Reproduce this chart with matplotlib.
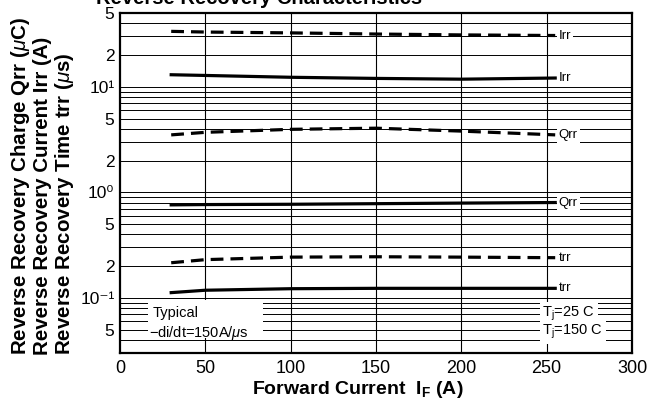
import numpy as np
import matplotlib
matplotlib.use("Agg")
import matplotlib.pyplot as plt
from matplotlib.patches import Rectangle

plt.rcParams['font.family'] = ['Liberation Sans', 'DejaVu Sans']
plt.rcParams['mathtext.fontset'] = 'custom'
plt.rcParams['mathtext.rm'] = 'Liberation Sans'
plt.rcParams['mathtext.it'] = 'Liberation Sans:italic'
plt.rcParams['mathtext.bf'] = 'Liberation Sans:bold'

# forward current (A)
x_pts = [30, 50, 100, 150, 200, 255]

# dashed = Tj 25C, solid = Tj 150C
irr_dash = [33.5, 33.0, 32.4, 31.6, 31.0, 30.6]
irr_solid = [13.0, 12.8, 12.3, 12.0, 11.8, 12.1]
qrr_dash = [3.5, 3.7, 3.95, 4.05, 3.8, 3.5]
qrr_solid = [0.76, 0.765, 0.77, 0.78, 0.79, 0.80]
trr_dash = [0.215, 0.23, 0.243, 0.245, 0.243, 0.24]
trr_solid = [0.112, 0.118, 0.122, 0.123, 0.123, 0.123]

curve_names = ["Irr", "Irr", "Qrr", "Qrr", "trr", "trr"]

x_ticks = [0, 50, 100, 150, 200, 250, 300]
y_ticks = [0.05, 0.1, 0.2, 0.5, 1, 2, 5, 10, 20, 50]
y_tick_labels = ["5", "10\u207b\u00b9", "2", "5", "10\u2070",
                 "2", "5", "10\u00b9", "2", "5"]

fig = plt.figure(figsize=(6.62, 4.09), dpi=100)
ax = fig.add_axes([120/662, 1-353/409, 512/662, 340/409])

ax.set_yscale('log')
ax.set_xlim(0, 300)
ax.set_ylim(0.03, 50)

# grid: every 1..9 step in each decade plus the 50 A lines
minor = []
for dec in [0.01, 0.1, 1, 10]:
    for m in range(1, 10):
        v = m*dec
        if 0.03 < v < 50:
            minor.append(v)
for v in minor:
    ax.axhline(v, color='black', lw=0.7, zorder=1)
for v in x_ticks[1:-1]:
    ax.axvline(v, color='black', lw=0.8, zorder=1)

series = [irr_dash, irr_solid, qrr_dash, qrr_solid, trr_dash, trr_solid]
for i, ys in enumerate(series):
    if i % 2 == 0:
        ax.plot(x_pts, ys, color='black', lw=2.3, dashes=(4, 2.2), zorder=3)
    else:
        ax.plot(x_pts, ys, color='black', lw=2.3, zorder=3)
    ax.text(257, ys[-1], curve_names[i], fontsize=9.5, ha='left', va='center',
            zorder=4, bbox=dict(facecolor='white', edgecolor='none', pad=1.5))

# white patches behind the notes
ax.add_patch(Rectangle((0.054, 0.045), 0.225, 0.11, transform=ax.transAxes,
                       facecolor='white', edgecolor='none', zorder=2))
ax.text(0.063, 0.118, "Typical", transform=ax.transAxes, fontsize=10.5,
        va='center', ha='left', zorder=4)
ax.text(0.056, 0.06, r"$-$di/dt=150A/$\mathit{\mu}$s", transform=ax.transAxes,
        fontsize=10.5, va='center', ha='left', zorder=4)
ax.text(0.825, 0.115, r"T$_\mathregular{j}$=25 C", transform=ax.transAxes,
        fontsize=10.5, va='center', ha='left', zorder=4,
        bbox=dict(facecolor='white', edgecolor='none', pad=2))
ax.text(0.825, 0.062, r"T$_\mathregular{j}$=150 C", transform=ax.transAxes,
        fontsize=10.5, va='center', ha='left', zorder=4,
        bbox=dict(facecolor='white', edgecolor='none', pad=2))

ax.set_xticks(x_ticks)
ax.set_yticks(y_ticks)
ax.set_yticklabels(y_tick_labels)
ax.yaxis.set_minor_locator(matplotlib.ticker.NullLocator())
ax.tick_params(axis='x', length=0, labelsize=13, pad=5)
ax.tick_params(axis='y', length=0, labelsize=12.5, pad=4)
for s in ax.spines.values():
    s.set_linewidth(1.6)

fig.text(358/662, 1-389/409, r"Forward Current  I$_\mathregular{F}$ (A)",
         fontsize=14, fontweight='bold', ha='center', va='center')

ylab = [r"Reverse Recovery Charge Qrr ($\mathit{\mu}$C)",
        "Reverse Recovery Current Irr (A)",
        r"Reverse Recovery Time trr ($\mathit{\mu}$s)"]
for i, t in enumerate(ylab):
    fig.text((21 + 22*i)/662, 1-355/409, t, rotation=90, fontsize=14.8,
             fontweight='bold', ha='center', va='bottom')

fig.text(259/662, 1-4/409, "Reverse Recovery Characteristics", fontsize=14.5,
         fontweight='bold', ha='center', va='baseline')

fig.savefig("out.png", dpi=100)
